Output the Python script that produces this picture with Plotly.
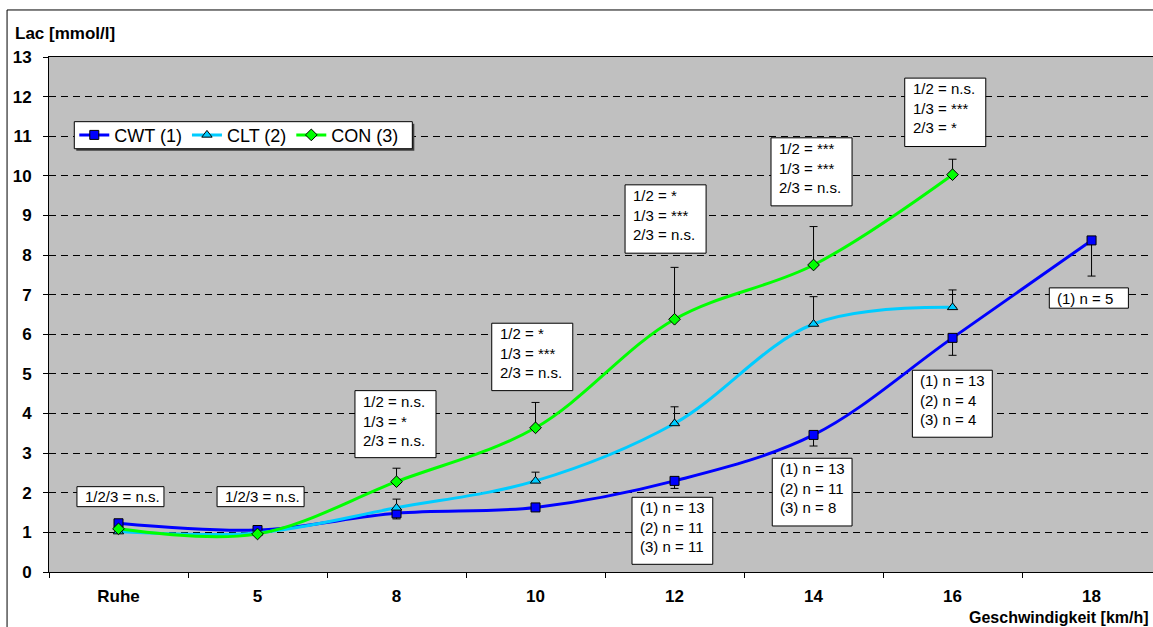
import plotly.graph_objects as go

# Speeds (category axis)
categories = ["Ruhe", "5", "8", "10", "12", "14", "16", "18"]

# Lactate means [mmol/l]
cwt = [1.23, 1.06, 1.48, 1.63, 2.30, 3.46, 5.91, 8.37]
clt = [1.02, 0.99, 1.62, 2.30, 3.75, 6.26, 6.68, None]
con = [1.09, 0.96, 2.28, 3.64, 6.38, 7.75, 10.03, None]

# One-sided standard deviations
cwt_sd = [0.05, 0.05, 0.14, 0.06, 0.19, 0.28, 0.44, 0.90]
clt_sd = [0.06, 0.04, 0.22, 0.22, 0.42, 0.69, 0.44, 0]
con_sd = [0.05, 0.04, 0.34, 0.64, 1.31, 0.97, 0.39, 0]

series_names = ["CWT (1)", "CLT (2)", "CON (3)"]

# Significance / sample-size boxes: text and box extent (x0, x1, y0, y1) in axis units
box_texts = [
    "1/2/3 = n.s.",
    "1/2/3 = n.s.",
    "1/2 = n.s.<br>1/3 = *<br>2/3 = n.s.",
    "1/2 = *<br>1/3 = ***<br>2/3 = n.s.",
    "1/2 = *<br>1/3 = ***<br>2/3 = n.s.",
    "1/2 = ***<br>1/3 = ***<br>2/3 = n.s.",
    "1/2 = n.s.<br>1/3 = ***<br>2/3 = *",
    "(1) n = 13<br>(2) n = 11<br>(3) n = 11",
    "(1) n = 13<br>(2) n = 11<br>(3) n = 8",
    "(1) n = 13<br>(2) n = 4<br>(3) n = 4",
    "(1) n = 5",
]
box_extents = [
    (-0.299, 0.327, 1.649, 2.154),
    (0.709, 1.335, 1.649, 2.154),
    (1.701, 2.284, 2.886, 4.578),
    (2.685, 3.268, 4.578, 6.280),
    (3.644, 4.227, 8.048, 9.773),
    (4.694, 5.277, 9.242, 10.960),
    (5.656, 6.239, 10.740, 12.467),
    (3.694, 4.275, 0.194, 1.886),
    (4.703, 5.277, 1.162, 2.871),
    (5.711, 6.286, 3.402, 5.093),
    (6.696, 7.265, 6.659, 7.172),
]

FONT = "Liberation Sans, Arial, sans-serif"

fig = go.Figure()

styles = [
    dict(color="#0000FF", symbol="square", size=9),
    dict(color="#00CCFF", symbol="triangle-up", size=9),
    dict(color="#00FF00", symbol="diamond", size=9),
]
values = [cwt, clt, con]
sds = [cwt_sd, clt_sd, con_sd]

for i, (name, vals, sd, st) in enumerate(zip(series_names, values, sds, styles)):
    if i == 0:
        err = dict(type="data", symmetric=False, array=[0] * len(sd), arrayminus=sd,
                   color="black", thickness=1, width=4)
    else:
        err = dict(type="data", symmetric=False, array=sd, arrayminus=[0] * len(sd),
                   color="black", thickness=1, width=4)
    fig.add_trace(go.Scatter(
        x=categories, y=vals, name=name, mode="lines+markers",
        line=dict(color=st["color"], width=3, shape="spline", smoothing=1.0),
        marker=dict(symbol=st["symbol"], size=st["size"], color=st["color"],
                    line=dict(color="black", width=1)),
        error_y=err,
    ))

shapes = []
annotations = []
for txt, (x0, x1, y0, y1) in zip(box_texts, box_extents):
    shapes.append(dict(type="rect", xref="x", yref="y", x0=x0, x1=x1, y0=y0, y1=y1,
                       fillcolor="white", line=dict(color="black", width=1), layer="above"))
    if "<br>" in txt:
        annotations.append(dict(xref="x", yref="y", x=x0, y=y1, xanchor="left", yanchor="top",
                                xshift=6, yshift=0, text=txt, showarrow=False, align="left",
                                font=dict(family=FONT, size=15, color="black")))
    else:
        annotations.append(dict(xref="x", yref="y", x=x0, y=(y0 + y1) / 2, xanchor="left",
                                yanchor="middle", xshift=6, text=txt, showarrow=False,
                                align="left", font=dict(family=FONT, size=15, color="black")))

# legend frame with a drop shadow
lx0, lx1, ly0, ly1 = 0.0229, 0.3291, 0.8219, 0.8744
shapes.append(dict(type="rect", xref="paper", yref="paper", x0=lx0 + 0.0018, x1=lx1 + 0.0018,
                   y0=ly0 - 0.0039, y1=ly1 - 0.0039, fillcolor="#404040",
                   line=dict(width=0), layer="above"))
shapes.append(dict(type="rect", xref="paper", yref="paper", x0=lx0, x1=lx1, y0=ly0, y1=ly1,
                   fillcolor="white", line=dict(color="black", width=1), layer="above"))

# outer chart frame
shapes.append(dict(type="rect", xref="paper", yref="paper", x0=-0.038, x1=1.05, y0=-0.3, y1=1.0913,
                   line=dict(color="black", width=1), fillcolor="rgba(0,0,0,0)", layer="below"))

annotations.append(dict(xref="paper", yref="paper", x=-0.0326, y=1.0466, xanchor="left",
                        yanchor="middle", text="<b>Lac [mmol/l]</b>", showarrow=False,
                        font=dict(family=FONT, size=17, color="black")))
annotations.append(dict(xref="paper", yref="paper", x=0.9985, y=-0.0874, xanchor="right",
                        yanchor="middle", text="<b>Geschwindigkeit [km/h]</b>", showarrow=False,
                        font=dict(family=FONT, size=16, color="black")))

fig.update_layout(
    width=1153, height=627,
    margin=dict(l=49, r=0, t=57, b=55),
    plot_bgcolor="#C0C0C0", paper_bgcolor="white",
    font=dict(family=FONT, color="black"),
    showlegend=True,
    legend=dict(orientation="h", x=0.0229, y=(ly0 + ly1) / 2, xanchor="left", yanchor="middle",
                bgcolor="rgba(0,0,0,0)", borderwidth=0,
                font=dict(family=FONT, size=18, color="black")),
    shapes=shapes, annotations=annotations,
)

fig.update_xaxes(
    type="category", range=[-0.5, 7.442], tickson="boundaries",
    ticks="outside", ticklen=5, tickcolor="black",
    showline=True, linecolor="black", linewidth=1, mirror=True,
    showgrid=False, zeroline=False, ticklabelstandoff=9,
    tickfont=dict(family=FONT, size=17, color="black", weight="bold"),
)
fig.update_yaxes(
    range=[0, 13], dtick=1, tick0=0,
    ticks="outside", ticklen=5, tickcolor="black",
    showline=True, linecolor="black", linewidth=1,
    showgrid=True, gridcolor="black", gridwidth=1, griddash="7px,5px",
    zeroline=False, ticklabelstandoff=8,
    tickfont=dict(family=FONT, size=17, color="black", weight="bold"),
)

fig.write_html("out.html")
